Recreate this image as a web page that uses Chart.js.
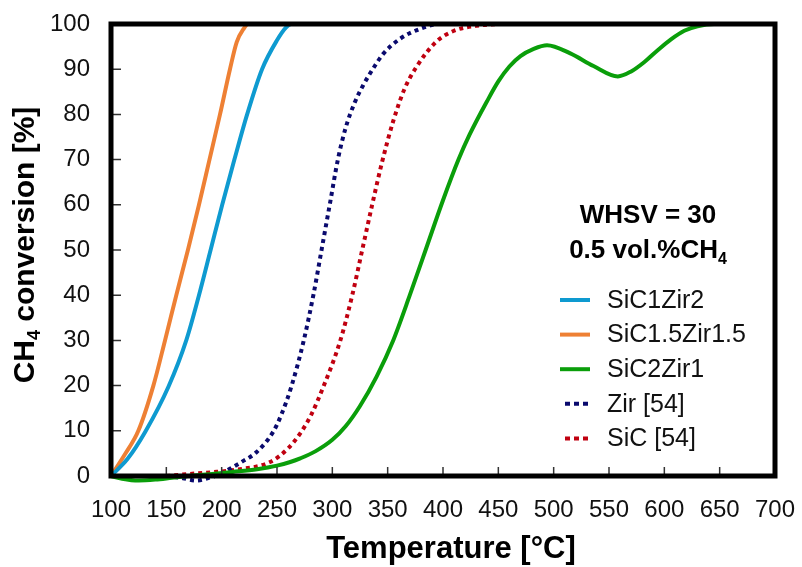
<!DOCTYPE html>
<html>
<head>
<meta charset="utf-8">
<script src="https://cdn.jsdelivr.net/npm/chart.js@4.4.0/dist/chart.umd.min.js"></script>
<style>
  html, body { margin: 0; padding: 0; background: #fff; }
  #wrap { width: 802px; height: 567px; }
</style>
</head>
<body>
<div id="wrap"><canvas id="chart"></canvas></div>
<script>
// temperature [°C] / conversion [%]
const sic1zir2T = [100, 115, 131, 152, 168, 179.5, 190, 200.5, 211.5, 223, 236.5, 250, 258, 263, 310];
const sic1zir2Y = [0, 3.8, 9.8, 19.8, 30, 40, 50, 60, 70, 80, 90, 96.4, 99.2, 100, 100];

const sic15zir15T = [100, 112.6, 124.7, 138.3, 148.8, 159, 169.5, 179.5, 189, 198.5, 207.5, 213.6, 220, 224, 300];
const sic15zir15Y = [0, 4.8, 10, 20, 30, 40, 50, 60, 70, 80, 90, 96, 99, 100, 100];

const sic2zir1T = [100, 110, 125, 140, 155, 170, 189, 210, 232, 250, 262, 271, 285, 300, 312, 325, 340, 355, 370, 385, 400, 414, 424, 440, 450, 460, 470, 482, 494, 515, 536, 558, 570, 582, 594, 606, 618, 630, 645, 700];
const sic2zir1Y = [0, -0.6, -1, -0.8, -0.4, 0, 0.4, 0.9, 1.5, 2.3, 3.1, 3.9, 5.5, 8, 11, 15.5, 22, 30, 40, 50.5, 61, 70, 75.5, 83, 87.3, 90.6, 92.9, 94.5, 95.3, 93.5, 90.7, 88.4, 89.5, 91.6, 94.2, 96.6, 98.5, 99.5, 100, 100];

const zirT = [150, 165, 177, 190, 200, 207.5, 218, 231.6, 246.6, 254, 263, 274, 283, 290.4, 298, 305, 312, 320, 328, 337, 346, 361, 379, 397, 450];
const zirY = [0, -0.5, -1, -0.3, 0.5, 1.6, 3.1, 5.3, 9.8, 13.6, 19.8, 29.8, 40.2, 50.2, 60.5, 70, 77, 82.5, 86.5, 90.2, 93.4, 96.7, 98.9, 100, 100];

const sicT = [150, 168, 190, 213.6, 243.7, 260, 272, 281, 292, 307, 318, 327, 336, 345, 355, 365, 376, 394, 410, 430, 460, 510];
const sicY = [0, 0.4, 0.8, 1.4, 3.1, 6.1, 9.8, 13.6, 19.8, 29.8, 40, 50, 60, 69.5, 78.5, 85.5, 90.5, 96.1, 98.5, 99.6, 100, 100];

const seriesNames = ['SiC1Zir2', 'SiC1.5Zir1.5', 'SiC2Zir1', 'Zir [54]', 'SiC [54]'];
const xTitle = 'Temperature [°C]';
const yTitle = ['CH', '4', ' conversion [%]'];
const noteLine1 = 'WHSV = 30';
const noteLine2 = ['0.5 vol.%CH', '4'];

const FONT = "'Liberation Sans', Arial, sans-serif";

function pts(xs, ys) {
    return xs.map((x, i) => ({ x: x, y: ys[i] }));
}

function line(label, xs, ys, color, dashed) {
    return {
        label: label,
        data: pts(xs, ys),
        borderColor: color,
        backgroundColor: color,
        borderWidth: 4,
        borderDash: dashed ? [4, 4] : [],
        borderCapStyle: 'butt',
        pointRadius: 0,
        cubicInterpolationMode: 'monotone',
        clip: false
    };
}

// frame, inner ticks, axis titles, note and legend
const decor = {
    id: 'decor',
    afterDatasetsDraw(chart) {
        const ctx = chart.ctx;
        const a = chart.chartArea;
        const xs = chart.scales.x;
        const ys = chart.scales.y;
        ctx.save();

        ctx.strokeStyle = '#333';
        ctx.lineWidth = 1.5;
        ctx.beginPath();
        xs.ticks.forEach(t => {
            if (t.value <= xs.min || t.value >= xs.max) return;
            const px = xs.getPixelForValue(t.value);
            ctx.moveTo(px, a.bottom);
            ctx.lineTo(px, a.bottom - 9);
        });
        ys.ticks.forEach(t => {
            if (t.value <= ys.min || t.value >= ys.max) return;
            const py = ys.getPixelForValue(t.value);
            ctx.moveTo(a.left, py);
            ctx.lineTo(a.left + 10, py);
        });
        ctx.stroke();

        ctx.strokeStyle = '#000';
        ctx.lineWidth = 5;
        ctx.strokeRect(a.left, a.top, a.right - a.left, a.bottom - a.top);

        ctx.fillStyle = '#000';
        // x title
        ctx.font = 'bold 31px ' + FONT;
        ctx.textAlign = 'center';
        ctx.textBaseline = 'alphabetic';
        ctx.fillText(xTitle, 451, 558);

        // y title with subscript
        const big = 'bold 30px ' + FONT;
        const small = 'bold 18px ' + FONT;
        ctx.font = big;
        const w0 = ctx.measureText(yTitle[0]).width;
        const w2 = ctx.measureText(yTitle[2]).width;
        ctx.font = small;
        const w1 = ctx.measureText(yTitle[1]).width;
        const total = w0 + w1 + w2;
        ctx.translate(34, 245);
        ctx.rotate(-Math.PI / 2);
        ctx.textAlign = 'left';
        const x0 = -total / 2;
        ctx.font = big;
        ctx.fillText(yTitle[0], x0, 0);
        ctx.font = small;
        ctx.fillText(yTitle[1], x0 + w0, 6);
        ctx.font = big;
        ctx.fillText(yTitle[2], x0 + w0 + w1, 0);
        ctx.setTransform(1, 0, 0, 1, 0, 0);

        // note
        const cx = 648;
        ctx.font = 'bold 26px ' + FONT;
        ctx.textAlign = 'center';
        ctx.fillText(noteLine1, cx, 223);
        const n0 = ctx.measureText(noteLine2[0]).width;
        ctx.font = 'bold 16px ' + FONT;
        const n1 = ctx.measureText(noteLine2[1]).width;
        ctx.textAlign = 'left';
        const nx = cx - (n0 + n1) / 2;
        ctx.font = 'bold 26px ' + FONT;
        ctx.fillText(noteLine2[0], nx, 258);
        ctx.font = 'bold 16px ' + FONT;
        ctx.fillText(noteLine2[1], nx + n0, 264);

        // legend
        ctx.font = '25px ' + FONT;
        ctx.textBaseline = 'middle';
        chart.data.datasets.forEach((ds, i) => {
            const y = 300 + i * 34.6;
            ctx.strokeStyle = ds.borderColor;
            ctx.lineWidth = 4;
            ctx.setLineDash(ds.borderDash.length ? [5, 4] : []);
            ctx.beginPath();
            if (ds.borderDash.length) {
                ctx.moveTo(565, y);
                ctx.lineTo(592, y);
            } else {
                ctx.moveTo(560, y);
                ctx.lineTo(590, y);
            }
            ctx.stroke();
            ctx.setLineDash([]);
            ctx.fillStyle = '#111';
            ctx.fillText(ds.label, 607, y + 1);
        });
        ctx.restore();
    }
};

new Chart(document.getElementById('chart'), {
    type: 'line',
    data: {
        datasets: [
            line(seriesNames[0], sic1zir2T, sic1zir2Y, '#0E9AD0', false),
            line(seriesNames[1], sic15zir15T, sic15zir15Y, '#EE8034', false),
            line(seriesNames[2], sic2zir1T, sic2zir1Y, '#0A9E0A', false),
            line(seriesNames[3], zirT, zirY, '#0A0A6E', true),
            line(seriesNames[4], sicT, sicY, '#C00010', true)
        ]
    },
    options: {
        responsive: true,
        maintainAspectRatio: false,
        animation: false,
        layout: { padding: { top: 24, right: 27, left: 0, bottom: 0 } },
        plugins: {
            legend: { display: false },
            tooltip: { enabled: false }
        },
        scales: {
            x: {
                type: 'linear',
                min: 100,
                max: 700,
                afterFit: s => {
                    s.height = 91;
                    s.paddingLeft = 0;
                    s.paddingRight = 0;
                },
                grid: { display: false, drawTicks: false },
                border: { display: false },
                ticks: {
                    stepSize: 50,
                    padding: 20,
                    color: '#111',
                    font: { family: FONT, size: 24 }
                }
            },
            y: {
                min: 0,
                max: 100,
                afterFit: s => {
                    s.width = 111;
                    s.paddingTop = 0;
                    s.paddingBottom = 0;
                },
                grid: { display: false, drawTicks: false },
                border: { display: false },
                ticks: {
                    stepSize: 10,
                    padding: 21,
                    color: '#111',
                    font: { family: FONT, size: 24 }
                }
            }
        }
    },
    plugins: [decor]
});
</script>
</body>
</html>
